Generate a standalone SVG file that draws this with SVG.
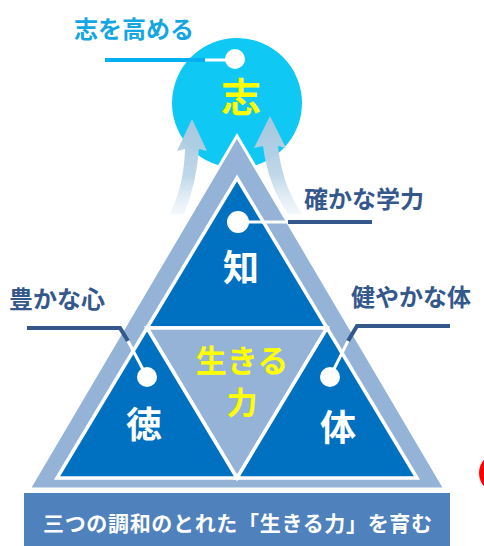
<svg xmlns="http://www.w3.org/2000/svg" width="484" height="546" viewBox="0 0 484 546">
  <defs>
    <linearGradient id="arrowGrad" x1="0" y1="0" x2="0" y2="1">
      <stop offset="0" stop-color="#A7C7DF" stop-opacity="1"/>
      <stop offset="0.6" stop-color="#BCD5E7" stop-opacity="0.95"/>
      <stop offset="1" stop-color="#DDEAF3" stop-opacity="0.35"/>
    </linearGradient>
  </defs>
  <style>
    text { font-family: "Noto Sans CJK JP", "Noto Sans", sans-serif; font-weight: 700; }
    .label { font-size: 24px; fill: #34588C; }
    .big { font-size: 36px; fill: #FFFFFF; text-anchor: middle; }
    .yellow { fill: #FFFF00; text-anchor: middle; }
    .tri-dark { fill: #0070C0; stroke: #FFFFFF; stroke-width: 3.5; stroke-linejoin: miter; }
    .tri-light { fill: #95B3D7; stroke: #FFFFFF; stroke-width: 3.5; stroke-linejoin: miter; }
    .lead-dark { fill: none; stroke: #34588C; stroke-width: 4; }
    .lead-white { fill: none; stroke: #FFFFFF; stroke-width: 3; }
    .dot { fill: #FFFFFF; }
  </style>

  <rect width="484" height="546" fill="#FFFFFF"/>

  <!-- aspiration circle -->
  <g id="node-kokorozashi">
    <circle cx="237" cy="103" r="65" fill="#0FC8F4"/>
    <path d="M192,119 L207,151 L199,149 Q196,185 184,214 L170,214 Q184,185 185,149 L177,151 Z" fill="url(#arrowGrad)"/>
    <path d="M270,116 L286,148 L278,146 Q282,185 302,214 L288,214 Q268,185 263,146 L254,148 Z" fill="url(#arrowGrad)"/>
    <text class="yellow" x="241" y="112" font-size="40">志</text>
  </g>

  <!-- outer pyramid -->
  <g id="node-pyramid">
    <polygon points="237,136 29,489 445,489" fill="#95B3D7" stroke="#FFFFFF" stroke-width="3"/>
  </g>

  <g id="node-chi">
    <polygon class="tri-dark" points="237,178 147,328 327,328"/>
    <text class="big" x="241" y="281">知</text>
  </g>

  <g id="node-ikiru">
    <polygon class="tri-light" points="147,328 327,328 237,478"/>
    <text class="yellow" x="242" y="372" font-size="31">生きる</text>
    <text class="yellow" x="242" y="414" font-size="31">力</text>
  </g>

  <g id="node-toku">
    <polygon class="tri-dark" points="147,328 57,478 237,478"/>
    <text class="big" x="144" y="438">徳</text>
  </g>

  <g id="node-tai">
    <polygon class="tri-dark" points="327,328 237,478 417,478"/>
    <text class="big" x="338" y="441">体</text>
  </g>

  <!-- connectors / leaders -->
  <g id="connectors">
    <line x1="105" y1="60" x2="205" y2="60" stroke="#00B0F0" stroke-width="4"/>
    <line x1="205" y1="60" x2="235" y2="60" stroke="#FFFFFF" stroke-width="3"/>
    <circle class="dot" cx="235" cy="59" r="10"/>

    <line class="lead-white" x1="238" y1="222" x2="288" y2="222"/>
    <line class="lead-dark" x1="288" y1="222" x2="372" y2="222"/>
    <circle class="dot" cx="238" cy="222" r="11"/>

    <polyline class="lead-dark" points="27,328 120,328 128,341"/>
    <line class="lead-white" x1="128" y1="341" x2="147" y2="377"/>
    <circle class="dot" cx="147" cy="377" r="10"/>

    <polyline class="lead-dark" points="450,326 357,326 348,341"/>
    <line class="lead-white" x1="348" y1="341" x2="330" y2="377"/>
    <circle class="dot" cx="330" cy="377" r="10"/>
  </g>

  <!-- labels -->
  <g id="node-label-kokorozashi">
    <text x="74" y="38" font-size="24" fill="#13A6E2">志を高める</text>
  </g>
  <g id="node-label-chi">
    <text class="label" x="304" y="208">確かな学力</text>
  </g>
  <g id="node-label-tai">
    <text class="label" x="351" y="306">健やかな体</text>
  </g>
  <g id="node-label-toku">
    <text class="label" x="9" y="308">豊かな心</text>
  </g>

  <!-- banner -->
  <g id="node-banner">
    <rect x="24" y="493" width="426" height="53" fill="#4F81BD"/>
    <text x="43" y="531" font-size="21" fill="#FFFFFF" textLength="389" lengthAdjust="spacing">三つの調和のとれた「生きる力」を育む</text>
  </g>

  <!-- partial red shape at right edge -->
  <g id="node-red">
    <circle cx="499" cy="473" r="20" fill="#FF0000"/>
  </g>
</svg>
